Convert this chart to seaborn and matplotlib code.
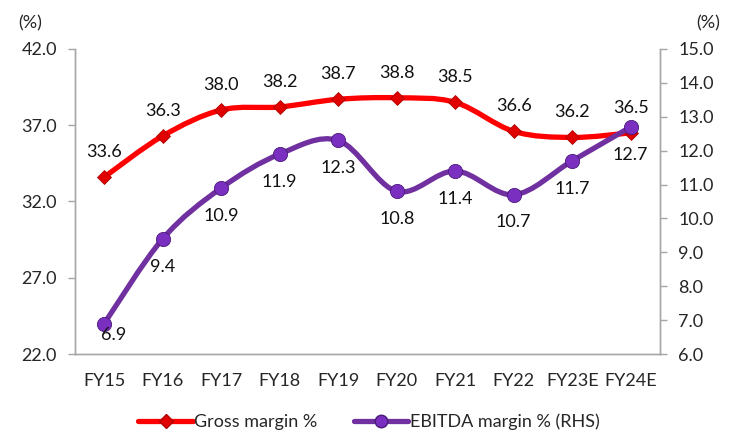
import numpy as np
import matplotlib
matplotlib.use('Agg')
import matplotlib.pyplot as plt
import seaborn as sns
from matplotlib.path import Path
from matplotlib.patches import PathPatch
from matplotlib.lines import Line2D

years = ['FY15', 'FY16', 'FY17', 'FY18', 'FY19', 'FY20', 'FY21', 'FY22', 'FY23E', 'FY24E']
gross_margin = [33.6, 36.3, 38.0, 38.2, 38.7, 38.8, 38.5, 36.6, 36.2, 36.5]
ebitda_margin = [6.9, 9.4, 10.9, 11.9, 12.3, 10.8, 11.4, 10.7, 11.7, 12.7]

red = '#FF0000'
purple = '#7030A0'
grey = '#A6A6A6'

sns.set_style('white')
plt.rcParams['font.family'] = ['Lato', 'DejaVu Sans']
fs = 13


def smooth_path(x, y):
    # excel-like smoothed line: cubic bezier through every point
    pts = np.column_stack([x, y]).astype(float)
    n = len(pts)
    verts = [pts[0]]
    codes = [Path.MOVETO]
    for i in range(n - 1):
        p0 = pts[i - 1] if i > 0 else pts[i]
        p1 = pts[i]
        p2 = pts[i + 1]
        p3 = pts[i + 2] if i + 2 < n else pts[i + 1]
        verts += [p1 + (p2 - p0) / 6, p2 - (p3 - p1) / 6, p2]
        codes += [Path.CURVE4] * 3
    return Path(verts, codes)


fig = plt.figure(figsize=(7.38, 4.33), dpi=100)
ax = fig.add_axes([0.1016, 0.1824, 0.7927, 0.7045])
ax2 = ax.twinx()

x = np.arange(len(years))

ax.add_patch(PathPatch(smooth_path(x, gross_margin), fill=False, edgecolor=red,
                       lw=3.8, capstyle='round', zorder=3))
sns.scatterplot(x=x, y=gross_margin, ax=ax, marker='D', s=50, color='#E00000',
                edgecolor='#B00000', linewidth=0.6, zorder=4)

ax2.add_patch(PathPatch(smooth_path(x, ebitda_margin), fill=False, edgecolor=purple,
                        lw=3.8, capstyle='round', zorder=3))
sns.scatterplot(x=x, y=ebitda_margin, ax=ax2, marker='o', s=105, color='#7A2FC0',
                edgecolor='#4B1A7A', linewidth=0.6, zorder=4)

for i, v in enumerate(gross_margin):
    ax.annotate(f'{v:.1f}', (i, v), xytext=(0, 18), textcoords='offset points',
                ha='center', va='center', fontsize=fs, color='#111111')
for i, v in enumerate(ebitda_margin):
    off = (7, -8) if i == 0 else (0, -20)
    ax2.annotate(f'{v:.1f}', (i, v), xytext=off, textcoords='offset points',
                 ha='center', va='center', fontsize=fs, color='#111111', zorder=5)

ax.set_xlim(-0.5, len(years) - 0.5)
ax.set_ylim(22, 42)
ax.set_yticks(np.arange(22, 42.1, 5))
ax.set_yticklabels([f'{t:.1f}' for t in np.arange(22, 42.1, 5)])
ax2.set_ylim(6, 15)
ax2.set_yticks(np.arange(6, 15.1, 1))
ax2.set_yticklabels([f'{t:.1f}' for t in np.arange(6, 15.1, 1)])

ax.set_xticks(x)
ax.set_xticklabels(years)
ax.set_xticks(np.arange(-0.5, len(years)), minor=True)
ax.tick_params(axis='x', which='major', length=0, pad=14, labelsize=fs)
ax.tick_params(axis='x', which='minor', length=5, color=grey, width=1)
ax.tick_params(axis='y', length=5, color=grey, width=1, labelsize=fs, pad=8)
ax2.tick_params(axis='y', length=5, color=grey, width=1, labelsize=fs, pad=8)

for a in (ax, ax2):
    for side, sp in a.spines.items():
        if side == 'top':
            sp.set_visible(False)
        else:
            sp.set_color(grey)
            sp.set_linewidth(1)
ax.grid(False)
ax2.grid(False)

fig.text(0.041, 0.947, '(%)', fontsize=fs, ha='center', va='center')
fig.text(0.959, 0.947, '(%)', fontsize=fs, ha='center', va='center')

handles = [
    Line2D([], [], color=red, lw=3.8, marker='D', markersize=7, markerfacecolor='#E00000',
           markeredgecolor='#B00000'),
    Line2D([], [], color=purple, lw=3.8, marker='o', markersize=9, markerfacecolor='#7A2FC0',
           markeredgecolor='#4B1A7A'),
]
fig.legend(handles, ['Gross margin %', 'EBITDA margin % (RHS)'], loc='center',
           bbox_to_anchor=(0.5, 0.025), ncol=2, frameon=False, fontsize=fs,
           handlelength=3.0, handletextpad=0.1, columnspacing=2.0)

fig.savefig('out.png', dpi=100)
